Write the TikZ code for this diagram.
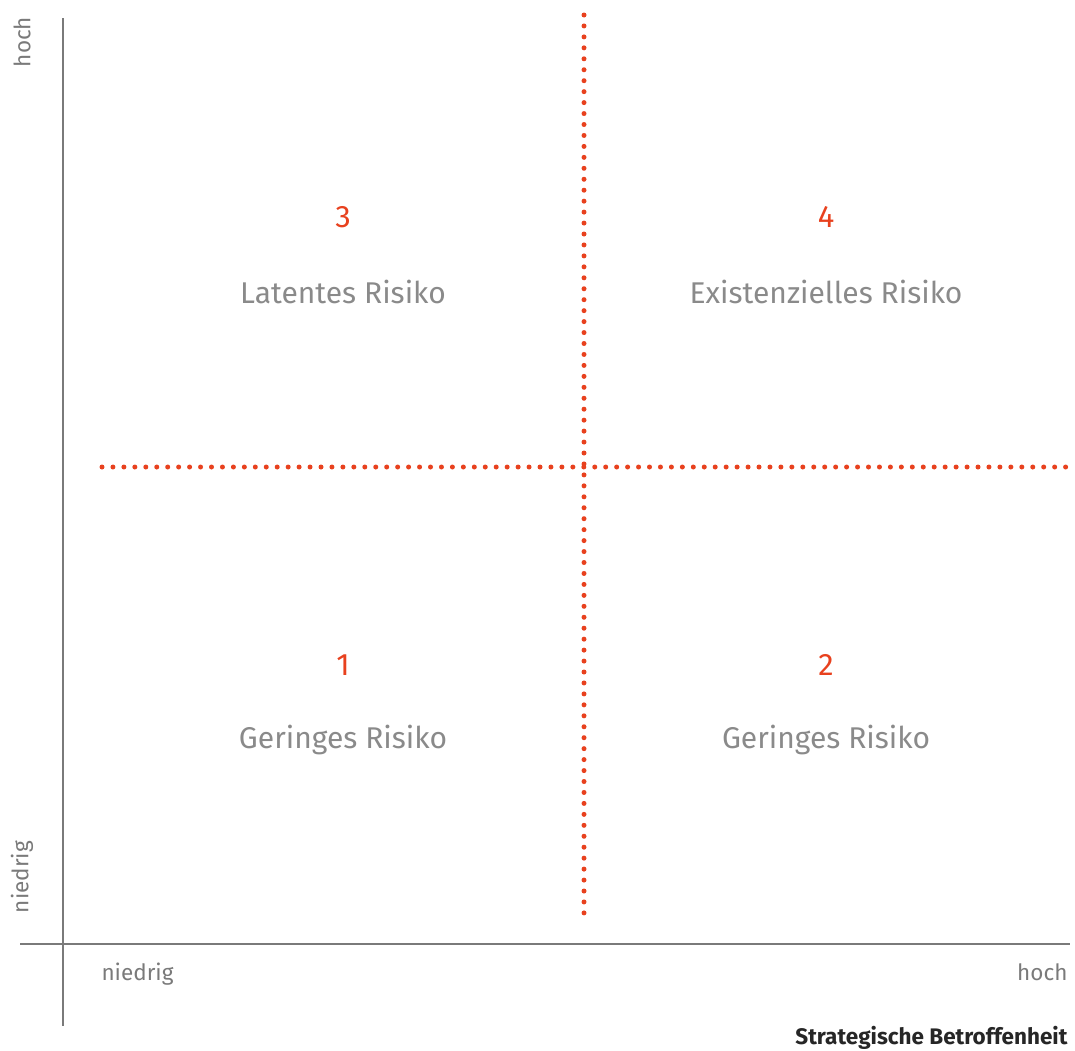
\documentclass[tikz,border=0pt]{standalone}
\usepackage{fontspec}
\setmainfont{Fira Sans}
\definecolor{accent}{HTML}{E8411E}
\definecolor{axisgray}{HTML}{7A7A7A}
\definecolor{textgray}{HTML}{8A8A8A}
\begin{document}
\begin{tikzpicture}[x=1pt,y=-1pt,
  axisline/.style={draw=axisgray,line width=2pt},
  dotline/.style={draw=accent,line width=5pt,line cap=round,dash pattern=on 0pt off 10.95pt},
  num/.style={text=accent,font=\fontsize{31}{35}\selectfont\addfontfeature{Weight=Light}},
  label/.style={text=textgray,font=\fontsize{30}{34}\selectfont},
  axlabel/.style={text=axisgray,font=\fontsize{22.5}{26}\selectfont},
  title/.style={text=black!85,font=\fontsize{22.5}{26}\selectfont\bfseries}]
\useasboundingbox (0,0) rectangle (1075,1050);
% axes
\coordinate (yTop) at (63,18);
\coordinate (yBot) at (63,1026);
\coordinate (xLeft) at (20,944);
\coordinate (xRight) at (1070,944);
\draw[axisline] (yTop) -- (yBot);
\draw[axisline] (xLeft) -- (xRight);
% dotted separators
\coordinate (vTop) at (584,15);
\coordinate (vBot) at (584,917);
\coordinate (hLeft) at (102,467);
\coordinate (hRight) at (1073,467);
\draw[dotline] (vTop) -- (vBot);
\draw[dotline] (hLeft) -- (hRight);
% quadrants
\node[num] (n3) at (343,217) {3};
\node[label] (l3) at (343,292) {Latentes Risiko};
\node[num] (n4) at (826,217) {4};
\node[label] (l4) at (826,292) {Existenzielles Risiko};
\node[num] (n1) at (343,665) {1};
\node[label] (l1) at (343,740) {Geringes Risiko};
\node[num] (n2) at (826,665) {2};
\node[label] (l2) at (826,740) {Geringes Risiko};
% axis labels
\node[axlabel,rotate=90] (yhoch) at (22,42) {hoch};
\node[axlabel,rotate=90] (yniedrig) at (22,877) {niedrig};
\node[axlabel,anchor=west] (xniedrig) at (98,974) {niedrig};
\node[axlabel,anchor=east] (xhoch) at (1071,972) {hoch};
\node[title,anchor=east] (xtitle) at (1071,1038) {Strategische Betroffenheit};
\end{tikzpicture}
\end{document}
